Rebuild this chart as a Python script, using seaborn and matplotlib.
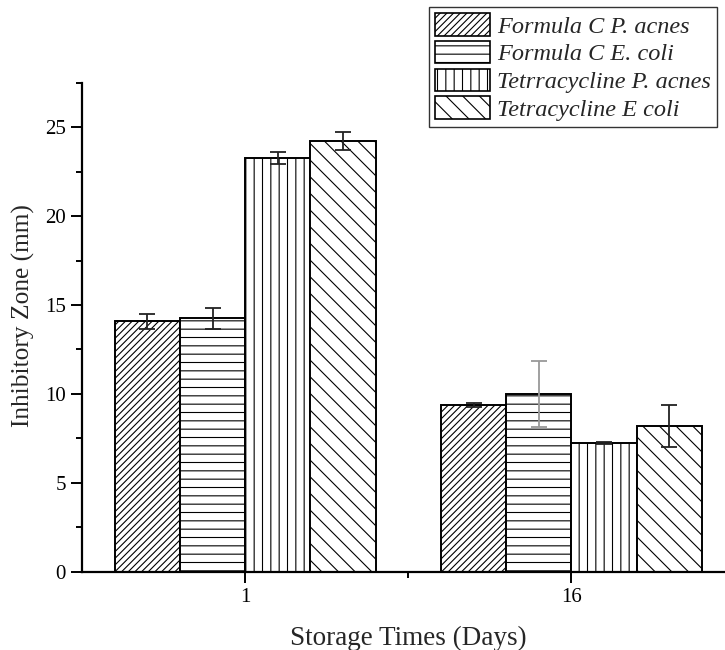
import matplotlib
matplotlib.use("Agg")
import matplotlib.pyplot as plt
import seaborn as sns
import pandas as pd
import numpy as np
from matplotlib.ticker import MultipleLocator, FixedLocator
from matplotlib.patches import Patch

days = ["1", "16"]
series = ["Formula C P. acnes", "Formula C E. coli",
          "Tetrracycline P. acnes", "Tetracycline E coli"]
values_day1 = [14.08, 14.24, 23.26, 24.2]
values_day16 = [9.37, 9.98, 7.25, 8.2]
err_day1 = [0.42, 0.6, 0.35, 0.5]
err_day16 = [0.1, 1.87, 0.05, 1.2]

rows = []
for i, s in enumerate(series):
    rows.append({"day": days[0], "series": s, "value": values_day1[i]})
    rows.append({"day": days[1], "series": s, "value": values_day16[i]})
df = pd.DataFrame(rows)

sns.set_style("ticks")
plt.rcParams["font.family"] = ["Liberation Serif", "DejaVu Serif"]
plt.rcParams["hatch.linewidth"] = 0.8

fig = plt.figure(figsize=(7.25, 6.5), dpi=100)
ax = fig.add_axes([82 / 725, 1 - 571.7 / 650, (734.5 - 82) / 725, (571.7 - 82.7) / 650])

sns.barplot(data=df, x="day", y="value", hue="series", order=days, hue_order=series,
            palette=["white"] * 4, edgecolor="black", linewidth=1.4,
            width=0.8, errorbar=None, ax=ax, legend=True)

hatches = ["/////", "--", "||", "\\\\"]
bar_containers = list(ax.containers)
for k, cont in enumerate(bar_containers):
    for j, bar in enumerate(cont.patches):
        bar.set_hatch(hatches[k])
        bar.set_edgecolor("black")
        xc = bar.get_x() + bar.get_width() / 2
        e = err_day1[k] if j == 0 else err_day16[k]
        col = "#999999" if (j == 1 and k == 1) else "#222222"
        ax.errorbar(xc, bar.get_height(), yerr=e, fmt="none", ecolor=col,
                    elinewidth=1.3, capsize=6, capthick=1.3, zorder=5)

ax.set_xlim(-0.5, 1.5)
ax.set_ylim(0, 27.5)
ax.yaxis.set_major_locator(MultipleLocator(5))
ax.yaxis.set_minor_locator(MultipleLocator(2.5))
ax.xaxis.set_minor_locator(FixedLocator([0.5]))
ax.tick_params(axis="both", which="major", length=8, width=1.4, labelsize=15, direction="out", colors="black")
ax.tick_params(axis="both", which="minor", length=4.5, width=1.4, direction="out", colors="black")
sns.despine(ax=ax, top=True, right=True)
for sp in ["left", "bottom"]:
    ax.spines[sp].set_linewidth(1.6)
    ax.spines[sp].set_color("black")

ax.set_xlabel("Storage Times (Days)", fontsize=19.5, labelpad=14)
ax.set_ylabel("Inhibitory Zone (mm)", fontsize=18.3)
ax.yaxis.set_label_coords(-0.072, 0.523)

if ax.get_legend() is not None:
    ax.get_legend().remove()
lh = [Patch(facecolor="white", edgecolor="black", hatch=hatches[k], linewidth=1.2) for k in range(4)]
leg = fig.legend(lh, series, loc="upper right", bbox_to_anchor=(717 / 725, 1 - 7 / 650),
                 bbox_transform=fig.transFigure, frameon=True, fancybox=False,
                 borderaxespad=0, borderpad=0.25, handlelength=2.25, handleheight=1.05,
                 handletextpad=0.3, labelspacing=0.13,
                 prop={"family": "Liberation Serif", "style": "italic", "size": 17.5})
leg.get_frame().set_edgecolor("black")
leg.get_frame().set_linewidth(1.0)

fig.savefig("out.png", dpi=100)
